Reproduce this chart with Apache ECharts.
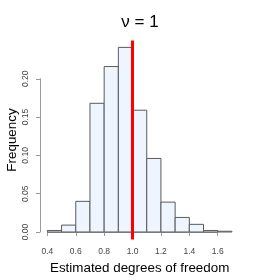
<!DOCTYPE html>
<html>
<head>
<meta charset="utf-8">
<script src="https://cdn.jsdelivr.net/npm/echarts@6/dist/echarts.min.js"></script>
<style>html,body{margin:0;padding:0;background:#fff}#c{width:280px;height:280px}</style>
</head>
<body>
<div id="c"></div>
<script>
// Data
const binStarts = [0.4, 0.5, 0.6, 0.7, 0.8, 0.9, 1.0, 1.1, 1.2, 1.3, 1.4, 1.5, 1.6];
const binWidth = 0.1;
const frequencies = [0.002, 0.009, 0.040, 0.168, 0.216, 0.241, 0.159, 0.096, 0.039, 0.019, 0.010, 0.002, 0.001];
const trueValue = 1.0;
const xTicks = [0.4, 0.6, 0.8, 1.0, 1.2, 1.4, 1.6];
const yTicks = [0.00, 0.05, 0.10, 0.15, 0.20];
const titleText = 'ν = 1';
const xLabel = 'Estimated degrees of freedom';
const yLabel = 'Frequency';

// Plot region (R style, axis range extended 4%)
const plot = {left: 40, right: 239.3, top: 40.5, bottom: 239.5};
const xMin = 0.348, xMax = 1.752, yMin = -0.0098, yMax = 0.2500;
const px = v => plot.left + (v - xMin) / (xMax - xMin) * (plot.right - plot.left);
const py = v => plot.bottom - (v - yMin) / (yMax - yMin) * (plot.bottom - plot.top);

const histData = binStarts.map((s, i) => [s, s + binWidth, frequencies[i]]);

const axisGray = '#9a9a9a';
const FONT = 'Liberation Sans, Arial, sans-serif';
const labelStyle = {color: '#444', fontSize: 8.5, fontFamily: FONT};
const nameStyle = {fontSize: 13.4, color: '#000', fontFamily: FONT};
const hiddenParts = {axisLine: {show: false}, axisTick: {show: false}, axisLabel: {show: false}, splitLine: {show: false}};
const gridBase = {containLabel: false, outerBoundsMode: 'none'};

const chart = echarts.init(document.getElementById('c'), null, {renderer: 'canvas'});
chart.setOption({
  animation: false,
  title: {
    text: titleText, left: 'center', top: 9,
    textStyle: {fontSize: 17, fontWeight: 'normal', color: '#000', fontFamily: FONT}
  },
  grid: [
    Object.assign({left: plot.left, top: plot.top, width: plot.right - plot.left, height: plot.bottom - plot.top}, gridBase),
    Object.assign({left: px(xTicks[0]), width: px(xTicks[xTicks.length-1]) - px(xTicks[0]), top: plot.top, height: plot.bottom - plot.top}, gridBase),
    Object.assign({left: plot.left, width: plot.right - plot.left, top: py(yTicks[yTicks.length-1]), height: py(yTicks[0]) - py(yTicks[yTicks.length-1])}, gridBase)
  ],
  xAxis: [
    Object.assign({gridIndex: 0, type: 'value', min: xMin, max: xMax,
      name: xLabel, nameLocation: 'middle', nameGap: 22, nameTextStyle: nameStyle}, hiddenParts),
    {gridIndex: 1, type: 'value', min: xTicks[0], max: xTicks[xTicks.length-1], interval: 0.2,
     axisLine: {lineStyle: {color: axisGray, width: 1}},
     axisTick: {length: 4, lineStyle: {color: axisGray}},
     splitLine: {show: false},
     axisLabel: Object.assign({margin: 8, formatter: v => v.toFixed(1)}, labelStyle)},
    {gridIndex: 2, type: 'value', min: xMin, max: xMax, show: false}
  ],
  yAxis: [
    Object.assign({gridIndex: 0, type: 'value', min: yMin, max: yMax,
      name: yLabel, nameLocation: 'middle', nameGap: 21, nameTextStyle: nameStyle}, hiddenParts),
    {gridIndex: 1, type: 'value', min: yMin, max: yMax, show: false},
    {gridIndex: 2, type: 'value', min: yTicks[0], max: yTicks[yTicks.length-1], interval: 0.05,
     axisLine: {show: true, lineStyle: {color: axisGray, width: 1}},
     axisTick: {show: true, length: 4, lineStyle: {color: axisGray}},
     splitLine: {show: false},
     axisLabel: Object.assign({margin: 10, rotate: 90, formatter: v => v.toFixed(2)}, labelStyle)}
  ],
  series: [
    {
      type: 'custom', xAxisIndex: 0, yAxisIndex: 0,
      data: histData,
      renderItem: function (params, api) {
        const p0 = api.coord([api.value(0), api.value(2)]);
        const p1 = api.coord([api.value(1), 0]);
        return {
          type: 'rect',
          shape: {x: p0[0], y: p0[1], width: p1[0] - p0[0], height: p1[1] - p0[1]},
          style: {fill: '#EEF5FF', stroke: '#5a5a5a', lineWidth: 1}
        };
      },
      markLine: {
        silent: true, symbol: 'none', label: {show: false},
        lineStyle: {color: '#FF0000', width: 3, type: 'solid'},
        data: [{xAxis: trueValue}]
      },
      z: 2
    }
  ]
});
</script>
</body>
</html>
